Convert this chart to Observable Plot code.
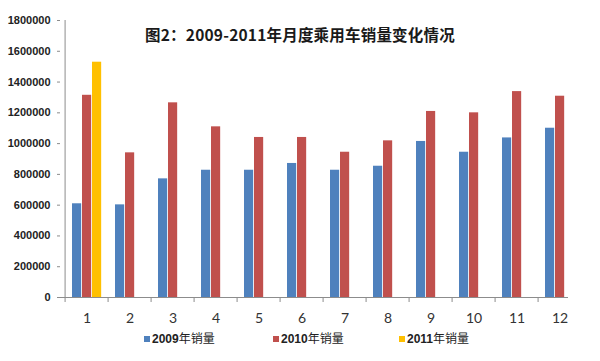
<!DOCTYPE html>
<html>
<head>
<meta charset="utf-8">
<script src="https://cdn.jsdelivr.net/npm/d3@7"></script>
<script src="https://cdn.jsdelivr.net/npm/@observablehq/plot@0.6"></script>
<style>
  body { margin: 0; background: #fff; }
  #wrap { position: relative; width: 600px; height: 361px; overflow: hidden; }
  #title { position: absolute; top: 23px; left: 0; width: 600px; text-align: center;
    font-family: "Noto Sans CJK SC", sans-serif; font-weight: 700; font-size: 15.5px; color: #1a1a1a; letter-spacing: 0.2px; }
  #legend { position: relative; height: 31px; font-family: "Noto Sans CJK SC", sans-serif; font-size: 12px; color: #222; }
  .item { position: absolute; top: 0px; line-height: 16px; white-space: nowrap; }
  .sw { display: inline-block; width: 6px; height: 6px; margin-right: 2px; vertical-align: 1px; }
</style>
</head>
<body>
<div id="wrap">
  <div id="chart"></div>
  <div id="legend"></div>
  <div id="title"></div>
</div>
<script>
const titleText = "图2：2009-2011年月度乘用车销量变化情况";
const months = ["1","2","3","4","5","6","7","8","9","10","11","12"];
const sales2009 = [609000, 602000, 771000, 827000, 827000, 871000, 827000, 853000, 1014000, 944000, 1037000, 1100000];
const sales2010 = [1314000, 940000, 1265000, 1109000, 1040000, 1040000, 944000, 1018000, 1209000, 1200000, 1338000, 1308000];
const sales2011 = [1529000];
const seriesNames = ["2009年销量", "2010年销量", "2011年销量"];
const colors = ["#4F81BD", "#C0504D", "#FFC000"];
const yTicks = d3.range(0, 1800001, 200000);

const W = 600, ML = 60, MR = 14;
const bw = (W - ML - MR) / months.length;

const chart = Plot.plot({
  width: W,
  height: 330,
  marginTop: 20,
  marginBottom: 33,
  marginLeft: ML,
  marginRight: MR,
  x: { domain: months, padding: 0, axis: null },
  y: { domain: [0, 1800000], axis: null },
  marks: [
    Plot.barY(months, { x: d => d, y: (d, i) => sales2009[i], fill: colors[0], insetLeft: 7, insetRight: bw - 17 }),
    Plot.barY(months, { x: d => d, y: (d, i) => sales2010[i], fill: colors[1], insetLeft: 17, insetRight: bw - 27 }),
    Plot.barY(months.slice(0, sales2011.length), { x: d => d, y: (d, i) => sales2011[i], fill: colors[2], insetLeft: 27, insetRight: bw - 37 }),
    Plot.ruleX([months[0]], { x: d => d, y1: 0, y2: 1800000, dx: -bw / 2, stroke: "#8c8c8c" }),
    Plot.ruleY([0], { stroke: "#8c8c8c", insetRight: 18 }),
    Plot.axisX({ tickSize: 5, tickFormat: () => "", dx: -bw / 2, stroke: "#8c8c8c" }),
    Plot.axisX({ tickSize: 0, tickPadding: 16, fontSize: 14, fontFamily: "Lato, sans-serif", fill: "#333" }),
    Plot.axisY({ ticks: yTicks, tickSize: 3, tickPadding: 7, tickFormat: d3.format("d"), stroke: "#8c8c8c",
      fontSize: 11, fontWeight: "bold", fontFamily: "Liberation Sans, Arial, sans-serif", fill: "#222" })
  ]
});
document.getElementById("chart").appendChild(chart);
document.getElementById("title").textContent = titleText;

const legend = document.getElementById("legend");
const lefts = [144, 273, 399];
seriesNames.forEach((n, i) => {
  const it = document.createElement("div");
  it.className = "item";
  it.style.left = lefts[i] + "px";
  it.innerHTML = `<span class="sw" style="background:${colors[i]}"></span><b style="font-family:Liberation Sans,Arial,sans-serif">${n.slice(0,4)}</b>${n.slice(4)}`;
  legend.appendChild(it);
});
</script>
</body>
</html>
